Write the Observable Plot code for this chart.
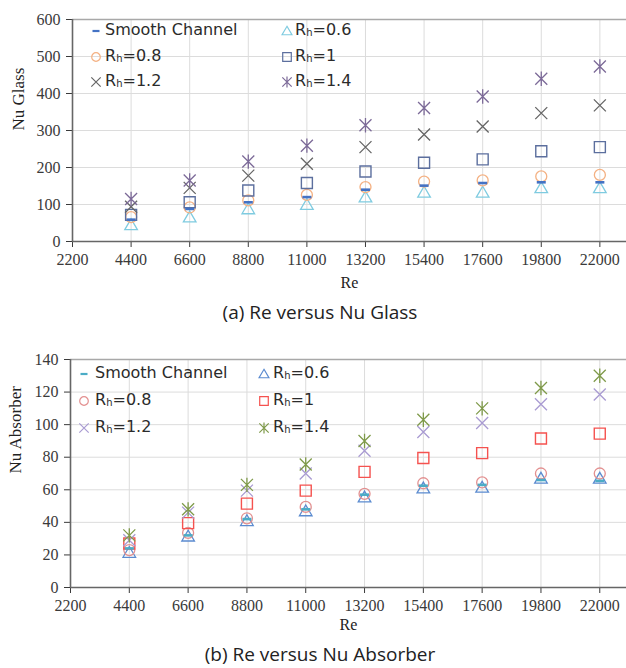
<!DOCTYPE html>
<html><head><meta charset="utf-8">
<script src="https://cdn.jsdelivr.net/npm/d3@7"></script>
<script src="https://cdn.jsdelivr.net/npm/@observablehq/plot@0.6"></script>
<style>
body{margin:0;background:#fff;}
#page{position:relative;width:626px;height:668px;overflow:hidden;background:#fff;}
.chart{position:absolute;left:0;width:626px;}
.leg{position:absolute;font-family:"DejaVu Sans",sans-serif;font-size:16px;line-height:20px;color:#2b2b2b;white-space:nowrap;}
.leg sub{font-size:10px;vertical-align:-1px;line-height:0;}
.cap{position:absolute;left:0;width:640px;text-align:center;font-family:"Open Sans",sans-serif;font-size:19px;color:#222;}
</style></head>
<body><div id="page"></div>
<script>
// ---- data ----
const re = [4400, 6600, 8800, 11000, 13200, 15400, 17600, 19800, 22000];
const reTicks = [2200, 4400, 6600, 8800, 11000, 13200, 15400, 17600, 19800, 22000];
const seriesNames = ["Smooth Channel", "Rh=0.6", "Rh=0.8", "Rh=1", "Rh=1.2", "Rh=1.4"];

// (a) Nu Glass
const glassTicks = [0, 100, 200, 300, 400, 500, 600];
const glassSmooth = [59, 88, 106, 120, 140, 151, 158, 160, 160];
const glass06 = [45, 66, 88, 100, 120, 133, 133, 145, 145];
const glass08 = [66, 92, 111, 126, 147, 162, 165, 176, 180];
const glass10 = [72, 106, 138, 158, 189, 213, 222, 244, 255];
const glass12 = [94, 145, 178, 210, 255, 289, 311, 347, 368];
const glass14 = [115, 165, 216, 259, 314, 361, 392, 440, 473];

// (b) Nu Absorber
const absTicks = [0, 20, 40, 60, 80, 100, 120, 140];
const absSmooth = [24, 32, 42, 48, 57, 62.5, 63, 66, 65.5];
const abs06 = [21.5, 31.5, 41, 47, 55.5, 61, 61.5, 67, 67];
const abs08 = [23, 33.5, 42.5, 49.5, 57.5, 64, 64.5, 70, 70];
const abs10 = [27, 39.5, 51.5, 59.5, 71, 79.5, 82.5, 91.5, 94.5];
const abs12 = [29, 46, 59.5, 70, 84, 95.5, 101, 112.5, 118.5];
const abs14 = [32, 48, 63, 75.5, 90, 103, 110, 122.5, 130];

// ---- symbols ----
const R = s => Math.sqrt(s / Math.PI);
const symDash = {draw(c, s){const r = R(s); c.moveTo(-r, 0); c.lineTo(r, 0);}};
const symTri = {draw(c, s){const r = R(s); c.moveTo(0, -r); c.lineTo(r * 1.05, r * 0.8); c.lineTo(-r * 1.05, r * 0.8); c.closePath();}};
const symCirc = {draw(c, s){const r = R(s); c.moveTo(r, 0); c.arc(0, 0, r, 0, 2 * Math.PI);}};
const symSq = {draw(c, s){const r = R(s); c.rect(-r, -r, 2 * r, 2 * r);}};
const symX = {draw(c, s){const r = R(s); c.moveTo(-r, -r); c.lineTo(r, r); c.moveTo(-r, r); c.lineTo(r, -r);}};
const symStar = {draw(c, s){const r = R(s); c.moveTo(-r, -r); c.lineTo(r, r); c.moveTo(-r, r); c.lineTo(r, -r); c.moveTo(0, -r * 1.2); c.lineTo(0, r * 1.2);}};
const symbols = [symDash, symTri, symCirc, symSq, symX, symStar];
const radii = [4.5, 6, 5.5, 5.5, 6, 6];
const widths = [2.6, 1.3, 1.3, 1.4, 1.3, 1.3];

const colorsA = ["#4472C4", "#7FCBE0", "#F4B183", "#5C6F9E", "#666666", "#7C6A98"];
const colorsB = ["#4BACC6", "#5B8BD0", "#E39090", "#F5524F", "#A99BD2", "#7F9A4A"];

function makeChart(cfg) {
  const {values, colors, ticks, ymax, height, marginBottom, marginLeft, ylabel, ylabelDx, reDy} = cfg;
  const order = [1, 2, 3, 4, 5, 0];
  const dots = order.map(i => Plot.dot(re.map((x, j) => ({x, y: values[i][j]})), {
    x: "x", y: "y", symbol: symbols[i], r: radii[i], stroke: colors[i], fill: "none", strokeWidth: widths[i]
  }));
  return Plot.plot({
    width: 626, height, marginTop: 19, marginBottom, marginLeft, marginRight: 0,
    style: {fontFamily: "'Liberation Serif', 'Times New Roman', serif", fontSize: "16px", color: "#3a3a3a", background: "transparent", overflow: "visible"},
    x: {domain: [2200, 23000], ticks: reTicks, tickFormat: d => String(d), tickSize: 6, tickPadding: 6, label: null},
    y: {domain: [0, ymax], ticks: ticks, tickSize: 6, tickPadding: 6, label: null},
    marks: [
      Plot.ruleX(reTicks.slice(1), {stroke: "#dcdcdc", strokeWidth: 1}),
      Plot.ruleY(ticks.slice(1, -1), {stroke: "#dcdcdc", strokeWidth: 1}),
      Plot.ruleY([ymax], {stroke: "#a8a8a8", strokeWidth: 1.5}),
      Plot.ruleX([2200], {stroke: "#666", strokeWidth: 1.6}),
      Plot.ruleY([0], {stroke: "#666", strokeWidth: 1.6}),
      ...dots,
      Plot.text(["Re"], {text: d => d, frameAnchor: "bottom", dy: reDy, fontSize: 16, fill: "#222"}),
      Plot.text([ylabel], {text: d => d, frameAnchor: "left", dx: ylabelDx, rotate: -90, fontSize: 17, fill: "#222"})
    ]
  });
}

function legend(container, colors, rows, cols, textCols) {
  seriesNames.forEach((name, i) => {
    const row = Math.floor(i / 2), col = i % 2;
    const cy = rows[row];
    const p = d3.path();
    const lr = radii[i] * 0.78;
    symbols[i].draw(p, Math.PI * lr * lr);
    const svg = d3.create("svg").attr("width", 20).attr("height", 20)
      .style("position", "absolute").style("left", (cols[col] - 10) + "px").style("top", (cy - 10) + "px").style("overflow", "visible");
    svg.append("path").attr("transform", "translate(10,10)").attr("d", p.toString())
      .attr("fill", "none").attr("stroke", colors[i]).attr("stroke-width", i === 0 ? 2.2 : 1.2);
    container.appendChild(svg.node());
    const div = document.createElement("div");
    div.className = "leg";
    div.style.left = textCols[col] + "px";
    div.style.top = (cy - 11) + "px";
    div.innerHTML = name.startsWith("Rh") ? "R<sub>h</sub>" + name.slice(2) : name;
    container.appendChild(div);
  });
}

const page = document.getElementById("page");

const divA = document.createElement("div");
divA.className = "chart"; divA.style.top = "0px";
divA.appendChild(makeChart({
  values: [glassSmooth, glass06, glass08, glass10, glass12, glass14], colors: colorsA,
  ticks: glassTicks, ymax: 600, height: 300, marginBottom: 59, marginLeft: 72,
  ylabel: "Nu Glass", ylabelDx: -54, reDy: 46
}));
legend(divA, colorsA, [31, 57, 82], [96, 287], [105, 295]);
page.appendChild(divA);

const capA = document.createElement("div");
capA.className = "cap"; capA.style.top = "299px"; capA.textContent = "(a) Re versus Nu Glass";
page.appendChild(capA);

const divB = document.createElement("div");
divB.className = "chart"; divB.style.top = "340px";
divB.appendChild(makeChart({
  values: [absSmooth, abs06, abs08, abs10, abs12, abs14], colors: colorsB,
  ticks: absTicks, ymax: 140, height: 305, marginBottom: 58, marginLeft: 70,
  ylabel: "Nu Absorber", ylabelDx: -55, reDy: 42
}));
legend(divB, colorsB, [34, 61, 88], [84, 264], [95, 273]);
page.appendChild(divB);

const capB = document.createElement("div");
capB.className = "cap"; capB.style.top = "641px"; capB.textContent = "(b) Re versus Nu Absorber";
page.appendChild(capB);
</script></body></html>
